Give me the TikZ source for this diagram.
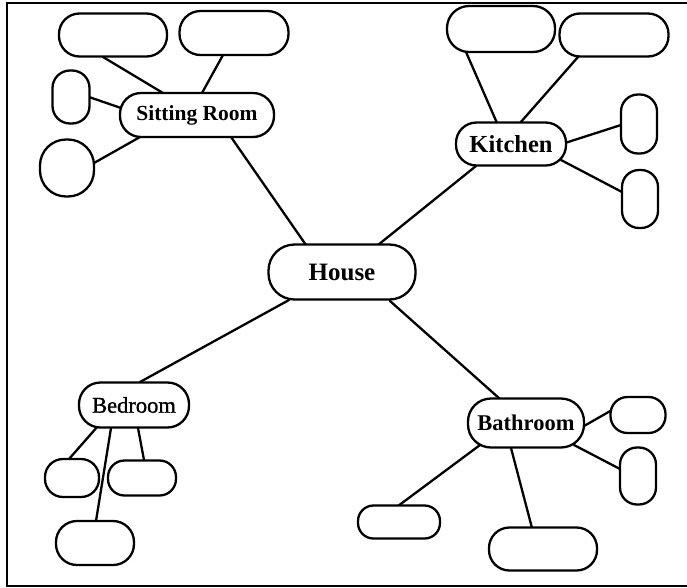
\documentclass[tikz,border=0pt]{standalone}
\usepackage{fontspec}
\setmainfont{Liberation Serif}
\newfontfamily\medserif[FakeBold=1.2]{Liberation Serif}
\pgfdeclarelayer{links}
\pgfsetlayers{links,main}
\begin{document}
\begin{tikzpicture}[x=1pt,y=-1pt,
  bub/.style n args={3}{draw, line width=2.3pt, fill=white, inner sep=0pt,
    minimum width=#1pt, minimum height=#2pt, rounded corners=#3pt},
  lbl/.style={font=\bfseries\fontsize{#1}{#1}\selectfont},
  link/.style={line width=2.3pt, line cap=round}]
\useasboundingbox (0,0) rectangle (687,587);
% frame
\draw[line width=2.3pt] (687,3) -- (7,3) -- (7,586) -- (687,586);

% main topics
\node[bub={147}{55}{26}, lbl=25] (house) at (342,272) {House};
\node[bub={154}{44}{21}, lbl=21.5] (sit) at (197,115) {Sitting Room};
\node[bub={110}{43}{20.5}, lbl=24.5] (kit) at (511,144) {Kitchen};
\node[bub={110}{45}{21.5}, font=\medserif\fontsize{22.5}{22.5}\selectfont] (bed) at (134,405) {Bedroom};
\node[bub={116}{49}{23}, lbl=22.5] (bath) at (526,423) {Bathroom};

% empty bubbles round the sitting room
\node[bub={108}{43}{20.5}] (s1) at (113,35) {};
\node[bub={109}{44}{21}] (s2) at (234,33) {};
\node[bub={37}{53}{17.5}] (s3) at (71,97) {};
\node[bub={54}{57}{26}] (s4) at (67,168) {};

% empty bubbles round the kitchen
\node[bub={108}{46}{22}] (k1) at (501,29) {};
\node[bub={109}{43}{20.5}] (k2) at (614,35) {};
\node[bub={36}{59}{17}] (k3) at (639,124) {};
\node[bub={36}{58}{17}] (k4) at (640,199) {};

% empty bubbles round the bedroom
\node[bub={54}{38}{18}] (e1) at (72,478) {};
\node[bub={68}{35}{16.5}] (e2) at (142,478) {};
\node[bub={78}{44}{21}] (e3) at (95,543) {};

% empty bubbles round the bathroom
\node[bub={55}{36}{17}] (t1) at (638,415) {};
\node[bub={36}{57}{17}] (t2) at (638,476) {};
\node[bub={82}{33}{15.5}] (t3) at (399,522) {};
\node[bub={108}{43}{20.5}] (t4) at (543,549) {};

\begin{pgfonlayer}{links}
  % house to rooms
  \draw[link] ([shift={(-36,-27)}]house.center) -- ([shift={(34,22)}]sit.center);
  \draw[link] ([shift={(36,-27)}]house.center) -- ([shift={(-35,22)}]kit.center);
  \draw[link] ([shift={(-53,28)}]house.center) -- ([shift={(6,-23)}]bed.center);
  \draw[link] ([shift={(48,29)}]house.center) -- ([shift={(-26,-24)}]bath.center);
  % sitting room
  \draw[link] ([shift={(-10,22)}]s1.center) -- ([shift={(-34,-22)}]sit.center);
  \draw[link] ([shift={(-11,22)}]s2.center) -- ([shift={(5,-22)}]sit.center);
  \draw[link] ([shift={(18,0)}]s3.center) -- ([shift={(-76,-7)}]sit.center);
  \draw[link] ([shift={(27,-5)}]s4.center) -- ([shift={(-57,22)}]sit.center);
  % kitchen
  \draw[link] ([shift={(-35,23)}]k1.center) -- ([shift={(-14,-21)}]kit.center);
  \draw[link] ([shift={(-36,22)}]k2.center) -- ([shift={(9,-21)}]kit.center);
  \draw[link] ([shift={(-18,1)}]k3.center) -- ([shift={(54,-1)}]kit.center);
  \draw[link] ([shift={(-18,-7)}]k4.center) -- ([shift={(50,16)}]kit.center);
  % bedroom
  \draw[link] ([shift={(-3,-19)}]e1.center) -- ([shift={(-36,21)}]bed.center);
  \draw[link] ([shift={(2,-18)}]e2.center) -- ([shift={(4,23)}]bed.center);
  \draw[link] ([shift={(1,-22)}]e3.center) -- ([shift={(-23,23)}]bed.center);
  % bathroom
  \draw[link] ([shift={(-26,-5)}]t1.center) -- ([shift={(58,3)}]bath.center);
  \draw[link] ([shift={(-18,-7)}]t2.center) -- ([shift={(48,22)}]bath.center);
  \draw[link] ([shift={(-1,-16)}]t3.center) -- ([shift={(-46,22)}]bath.center);
  \draw[link] ([shift={(-11,-21)}]t4.center) -- ([shift={(-15,25)}]bath.center);
\end{pgfonlayer}
\end{tikzpicture}
\end{document}
